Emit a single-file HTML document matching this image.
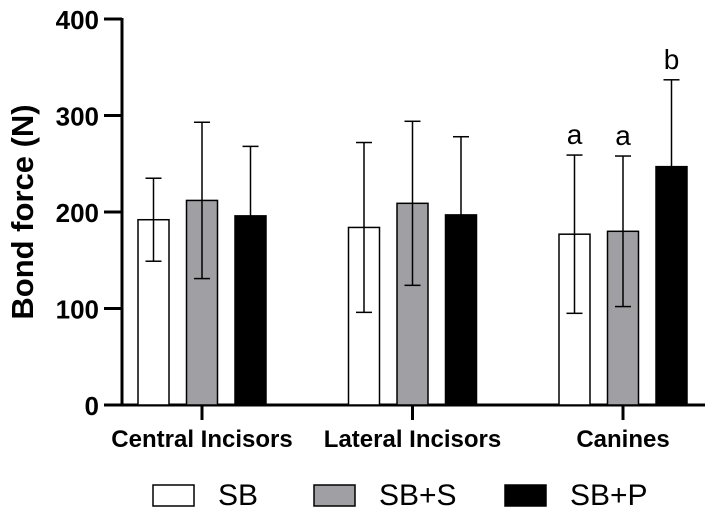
<!DOCTYPE html>
<html><head><meta charset="utf-8"><style>
body{margin:0;background:#fff}
svg{display:block;font-family:"Liberation Sans",Arial,sans-serif}
</style></head><body>
<svg id="chart" width="710" height="514" viewBox="0 0 710 514">
<g id="axes"></g><g id="bars"></g><g id="legend"></g>
</svg>
<script>
const categories=["Central Incisors","Lateral Incisors","Canines"];
const seriesNames=["SB","SB+S","SB+P"];
const meanSB=[192,184,177];
const meanSBS=[212,209,180];
const meanSBP=[196,197,247];
const sdSB=[43,88,82];
const sdSBS=[81,85,78];
const sdSBP=[72,81,90];
const letters=[["","",""],["","",""],["a","a","b"]];
const yTicks=[0,100,200,300,400];

const NS="http://www.w3.org/2000/svg";
const y0=405,y1=19,yMax=400;
const Y=v=>y0-(v/yMax)*(y0-y1);
const groupCenter=i=>202+i*210.5;
const barOff=[-48.5,0,48.5],bw=31;
const fills=["#fff","#a0a0a4","#000"];
const means=[meanSB,meanSBS,meanSBP],sds=[sdSB,sdSBS,sdSBP];
function el(t,a,p){const e=document.createElementNS(NS,t);for(const k in a)e.setAttribute(k,a[k]);p.appendChild(e);return e;}
const ax=document.getElementById('axes'),bg=document.getElementById('bars'),lg=document.getElementById('legend');

let e=el('line',{x1:122,y1:18,x2:122,y2:406.5,stroke:'#000','stroke-width':3},ax);

e=el('line',{x1:120.5,y1:405,x2:705,y2:405,stroke:'#000','stroke-width':3},ax);

yTicks.forEach(v=>{
 el('line',{x1:104,y1:Y(v),x2:122,y2:Y(v),stroke:'#000','stroke-width':3},ax);
 const t=el('text',{x:99,y:Y(v)+10,'text-anchor':'end','font-size':26,'font-weight':'bold'},ax);
 t.textContent=v;
 
 
});
e=el('text',{x:0,y:0,transform:'translate(33,212) rotate(-90)','text-anchor':'middle','font-size':31,'font-weight':'bold'},ax);
e.textContent='Bond force (N)';

categories.forEach((c,i)=>{
 el('line',{x1:groupCenter(i),y1:405,x2:groupCenter(i),y2:420,stroke:'#000','stroke-width':3},ax);
 const t=el('text',{x:groupCenter(i),y:447,'text-anchor':'middle','font-size':24,'font-weight':'bold'},ax);
 t.textContent=c;
 
 
});
categories.forEach((c,i)=>{
 for(let s=0;s<3;s++){
  const cx=groupCenter(i)+barOff[s],m=means[s][i],sd=sds[s][i];
  const r=el('rect',{x:cx-bw/2,y:Y(m),width:bw,height:y0-Y(m),fill:fills[s],stroke:'#000','stroke-width':1.5},bg);
  
  
  const lo=s==2?m:m-sd;
  el('line',{x1:cx,y1:Y(m+sd),x2:cx,y2:Y(lo),stroke:'#000','stroke-width':1.5},bg);
  el('line',{x1:cx-8,y1:Y(m+sd),x2:cx+8,y2:Y(m+sd),stroke:'#000','stroke-width':1.5},bg);
  if(s!=2) el('line',{x1:cx-8,y1:Y(lo),x2:cx+8,y2:Y(lo),stroke:'#000','stroke-width':1.5},bg);
  if(letters[i][s]){
   const t=el('text',{x:cx,y:Y(m+sd)-11,'text-anchor':'middle','font-size':28},bg);
   t.textContent=letters[i][s];
   
   
  }
 }
});
const lx=[153,314,505],tx=[218,379,570];
seriesNames.forEach((n,s)=>{
 const r=el('rect',{x:lx[s],y:485,width:41,height:21,fill:fills[s],stroke:'#000','stroke-width':1.5},lg);
 
 
 const t=el('text',{x:tx[s],y:505,'font-size':30},lg);
 t.textContent=n;
 
 
});
</script>
</body></html>
